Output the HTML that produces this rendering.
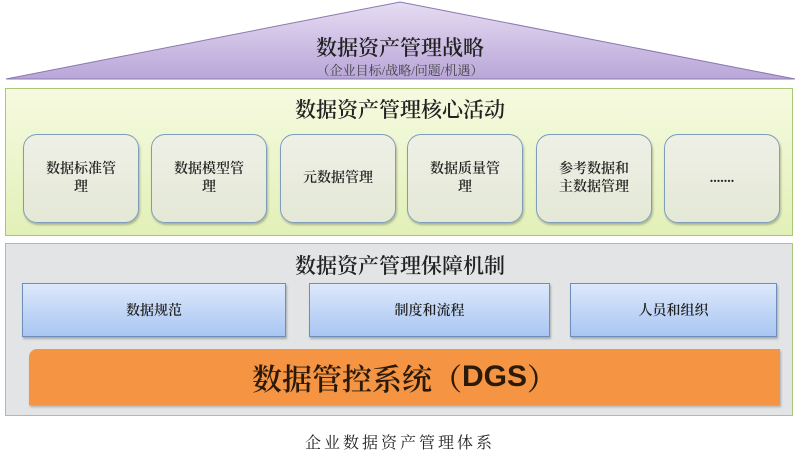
<!DOCTYPE html>
<html><head><meta charset="utf-8"><style>
body{margin:0;width:800px;height:467px;background:#fff;position:relative;overflow:hidden;font-family:"Liberation Serif","Noto Serif CJK SC",serif;color:#222}
.a{position:absolute;box-sizing:border-box}
.c{display:flex;align-items:center;justify-content:center;text-align:center}
.rb{border:1.5px solid #7f9cba;border-radius:14px;background:linear-gradient(#eef0e6,#e4e8d6);box-shadow:1px 2px 2px rgba(0,0,0,.25);font-size:14px;line-height:18px;font-weight:600}
.bb{border:1.5px solid #6d8dbb;background:linear-gradient(#dde8fb,#a9c6f2);box-shadow:1px 2px 2px rgba(0,0,0,.25);font-size:14px;font-weight:600}
</style></head><body>
<svg class="a" style="left:0;top:0" width="800" height="90">
<defs><linearGradient id="g" x1="0" y1="0" x2="0" y2="1"><stop offset="0" stop-color="#e6dcf2"/><stop offset="1" stop-color="#b9a6d8"/></linearGradient></defs>
<polygon points="400,2 795,79 6,79" fill="url(#g)" stroke="#8a78b0" stroke-width="1"/>
</svg>
<div class="a c" style="left:0;top:32px;width:800px;font-size:21px;font-weight:600">数据资产管理战略</div>
<div class="a c" style="left:0;top:60px;width:800px;font-size:13px;color:#444">（企业目标/战略/问题/机遇）</div>
<div class="a" style="left:5px;top:88px;width:788px;height:148px;background:linear-gradient(#f6fae0,#e2f0b8);border:1.5px solid #a8c878"></div>
<div class="a c" style="left:0;top:94px;width:800px;font-size:21px;font-weight:600">数据资产管理核心活动</div>
<div class="a c rb" style="left:23px;top:134px;width:116px;height:89px">数据标准管<br>理</div>
<div class="a c rb" style="left:151px;top:134px;width:116px;height:89px">数据模型管<br>理</div>
<div class="a c rb" style="left:280px;top:134px;width:116px;height:89px">元数据管理</div>
<div class="a c rb" style="left:407px;top:134px;width:116px;height:89px">数据质量管<br>理</div>
<div class="a c rb" style="left:536px;top:134px;width:116px;height:89px">参考数据和<br>主数据管理</div>
<div class="a c rb" style="left:664px;top:134px;width:116px;height:89px">.......</div>
<div class="a" style="left:5px;top:243px;width:788px;height:173px;background:#e2e4e6;border:1.5px solid #a8c878"></div>
<div class="a c" style="left:0;top:250px;width:800px;font-size:21px;font-weight:600">数据资产管理保障机制</div>
<div class="a c bb" style="left:22px;top:283px;width:264px;height:54px">数据规范</div>
<div class="a c bb" style="left:309px;top:283px;width:241px;height:54px">制度和流程</div>
<div class="a c bb" style="left:570px;top:283px;width:207px;height:54px">人员和组织</div>
<div class="a c" style="left:29px;top:349px;width:751px;height:56px;background:#f59443;border-radius:8px 0 0 0;box-shadow:1px 2px 2px rgba(0,0,0,.25);font-size:30px;color:#2a1a0a;font-weight:600">数据管控系统（<b style="font-family:'Liberation Sans',sans-serif">DGS</b>）</div>
<div class="a c" style="left:0;top:430px;width:800px;font-size:16px;letter-spacing:3px">企业数据资产管理体系</div>
</body></html>
